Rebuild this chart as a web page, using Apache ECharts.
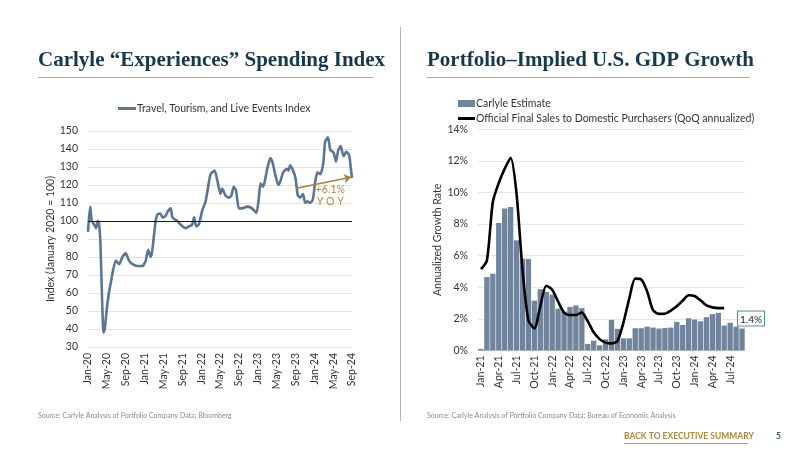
<!DOCTYPE html>
<html>
<head>
<meta charset="utf-8">
<script src="https://cdn.jsdelivr.net/npm/echarts@6.0.0/dist/echarts.min.js"></script>
<style>
  html, body { margin: 0; padding: 0; background: #fff; }
  #main { width: 800px; height: 450px; }
</style>
</head>
<body>
<div id="main"></div>
<script>
// left chart: index values, x = months since Jan-20
var idxMonth = [0, 0.45, 0.8, 1.3, 1.7, 2.05, 2.3, 2.6, 3.3, 3.55, 4.15, 4.85, 5.9, 6.6, 7.3, 8.0, 8.7, 9.45, 10.5, 11.55,
                12.25, 12.75, 13.3, 13.65, 14.4, 14.85, 15.4, 15.8, 16.5, 16.85, 17.55, 17.9, 18.95, 19.65, 20.7, 21.4, 22.1, 22.5, 22.95, 23.5,
                24.25, 24.95, 26.0, 26.85, 27.4, 28.1, 28.45, 29.2, 29.85, 30.4, 30.9, 31.4, 32.0, 32.7, 33.8, 34.5, 35.2, 35.75, 36.2, 36.6,
                37.1, 37.5, 38.1, 38.7, 39.2, 39.7, 40.4, 40.8, 41.4, 42.2, 42.5, 42.9, 43.5, 44.0, 44.5, 45.0, 45.6, 46.1, 46.6, 47.1,
                47.7, 48.2, 48.7, 49.3, 49.9, 50.3, 50.9, 51.4, 52.1, 52.6, 53.1, 53.6, 54.2, 54.8, 55.4, 55.8, 56];
var idxValue = [94, 108, 100, 98, 96, 100, 99, 90, 38, 40, 55, 66, 78, 76, 80, 82, 78, 76, 75, 75,
                78, 84, 80, 84, 101, 104, 104, 102, 103, 105, 107, 102, 100, 98, 96, 97, 98, 102, 97, 98,
                106, 111, 126, 128, 123, 115, 118, 114, 113, 114, 119, 117, 107, 107, 108, 107.5, 106, 104.5, 112, 121,
                119, 122, 130, 135, 132, 126, 120, 122, 127, 129, 128, 131, 128, 124, 114.4, 113, 115, 110, 111, 110,
                112, 122, 127, 126, 132, 144, 146.5, 139.5, 138, 133, 139.5, 141.6, 136, 138.5, 136.5, 128, 124];
var idxTicks = ['Jan-20', 'May-20', 'Sep-20', 'Jan-21', 'May-21', 'Sep-21', 'Jan-22', 'May-22', 'Sep-22',
                'Jan-23', 'May-23', 'Sep-23', 'Jan-24', 'May-24', 'Sep-24'];
var yoyFrom = [44.2, 118.2];
var yoyTo = [55.8, 124.3];
var yoyTextAt = [51.4, 114];

// right chart: monthly
var gdpMonths = ['Jan-21', 'Feb-21', 'Mar-21', 'Apr-21', 'May-21', 'Jun-21', 'Jul-21', 'Aug-21', 'Sep-21', 'Oct-21', 'Nov-21', 'Dec-21',
                 'Jan-22', 'Feb-22', 'Mar-22', 'Apr-22', 'May-22', 'Jun-22', 'Jul-22', 'Aug-22', 'Sep-22', 'Oct-22', 'Nov-22', 'Dec-22',
                 'Jan-23', 'Feb-23', 'Mar-23', 'Apr-23', 'May-23', 'Jun-23', 'Jul-23', 'Aug-23', 'Sep-23', 'Oct-23', 'Nov-23', 'Dec-23',
                 'Jan-24', 'Feb-24', 'Mar-24', 'Apr-24', 'May-24', 'Jun-24', 'Jul-24', 'Aug-24', 'Sep-24'];
var carlyleEst = [0.1, 4.65, 4.86, 8.07, 8.98, 9.09, 6.97, 5.81, 5.79, 3.16, 3.88, 3.71,
                  3.54, 2.65, 2.46, 2.76, 2.85, 2.68, 0.41, 0.62, 0.33, 0.71, 1.94, 1.37,
                  0.77, 0.77, 1.41, 1.41, 1.51, 1.45, 1.39, 1.43, 1.45, 1.81, 1.62, 2.04,
                  1.96, 1.85, 2.11, 2.3, 2.38, 1.58, 1.75, 1.51, 1.39];
var officialSales = [5.15, 5.7, 9.4, 10.6, 11.5, 12.2, 9.9, 5.1, 1.9, 1.4, 2.8, 4.1,
                     3.85, 3.1, 2.4, 2.25, 2.25, 2.4, 1.85, 1.15, 0.72, 0.5, 0.45, 0.6,
                     1.75, 3.3, 4.55, 4.5, 3.75, 2.55, 2.32, 2.33, 2.53, 2.8, 3.15, 3.5,
                     3.45, 3.18, 2.85, 2.73, 2.68, 2.68];
var lastLabel = '1.4%';

var FONT = 'Lato';
var TITLE_COLOR = '#163a4c';
var LEG_TEXT = { fontSize: 10.5, color: '#333', fontFamily: FONT, padding: [0, 0, 0, -4] };
var chart = echarts.init(document.getElementById('main'));

var barData = carlyleEst.map(function (v, i) {
    if (i === carlyleEst.length - 1) {
        return {
            value: v,
            label: {
                show: true, position: 'top', offset: [9, 2], formatter: lastLabel,
                color: '#222', fontSize: 10, fontFamily: FONT,
                borderColor: '#4f8f97', borderWidth: 1, padding: [3, 2, 1, 2], backgroundColor: '#fff'
            }
        };
    }
    return v;
});

var option = {
    animation: false,
    textStyle: { fontFamily: FONT },
    graphic: [
        { type: 'text', left: 38, top: 50, style: { text: 'Carlyle \u201CExperiences\u201D Spending Index', font: 'bold 21px "Liberation Serif"', fill: TITLE_COLOR } },
        { type: 'text', left: 427, top: 50, style: { text: 'Portfolio\u2013Implied U.S. GDP Growth', font: 'bold 21px "Liberation Serif"', fill: TITLE_COLOR } },
        { type: 'line', shape: { x1: 38, y1: 77.5, x2: 373, y2: 77.5 }, style: { stroke: '#a8a8a8', lineWidth: 1 } },
        { type: 'line', shape: { x1: 427, y1: 77.5, x2: 750, y2: 77.5 }, style: { stroke: '#a8a8a8', lineWidth: 1 } },
        { type: 'line', shape: { x1: 400.5, y1: 27, x2: 400.5, y2: 421 }, style: { stroke: '#b5b5b5', lineWidth: 1 } },
        { type: 'text', left: 38, top: 412, style: { text: 'Source: Carlyle Analysis of Portfolio Company Data; Bloomberg', font: '7px Lato', fill: '#8a8a8a' } },
        { type: 'text', left: 427, top: 412, style: { text: 'Source: Carlyle Analysis of Portfolio Company Data; Bureau of Economic Analysis', font: '7px Lato', fill: '#8a8a8a' } },
        { type: 'text', left: 624, top: 432, style: { text: 'BACK TO EXECUTIVE SUMMARY', font: 'bold 8.5px Lato', fill: '#b0883a' } },
        { type: 'line', shape: { x1: 624, y1: 443.5, x2: 748, y2: 443.5 }, style: { stroke: '#b0883a', lineWidth: 0.8 } },
        { type: 'text', left: 776, top: 432, style: { text: '5', font: 'bold 8.5px Lato', fill: '#2e5a66' } }
    ],
    legend: [
        {
            data: [{ name: 'Travel, Tourism, and Live Events Index', icon: 'rect' }],
            left: 113, top: 98, itemWidth: 18, itemHeight: 3,
            textStyle: LEG_TEXT
        },
        {
            data: [{ name: 'Carlyle Estimate', icon: 'rect' }],
            left: 453, top: 93, itemWidth: 17, itemHeight: 7,
            textStyle: LEG_TEXT
        },
        {
            data: [{ name: 'Official Final Sales to Domestic Purchasers (QoQ annualized)', icon: 'rect' }],
            left: 453, top: 108, itemWidth: 17, itemHeight: 3,
            textStyle: LEG_TEXT
        }
    ],
    grid: [
        { left: 88, top: 131, width: 264, height: 216 },
        { left: 478, top: 129.3, width: 267, height: 221.2 }
    ],
    xAxis: [
        {
            gridIndex: 0, type: 'value', min: 0, max: 56, interval: 4,
            axisLine: { show: false }, axisTick: { show: false }, splitLine: { show: false },
            axisLabel: {
                rotate: 90, margin: 6, fontSize: 10.5, color: '#333',
                formatter: function (v) { return idxTicks[Math.round(v / 4)] || ''; }
            }
        },
        {
            gridIndex: 1, type: 'category', data: gdpMonths,
            axisLine: { show: true, lineStyle: { color: '#d9d9d9' } }, axisTick: { show: false },
            axisLabel: { rotate: 90, interval: 2, margin: 5, fontSize: 10.5, color: '#333' }
        }
    ],
    yAxis: [
        {
            gridIndex: 0, type: 'value', min: 30, max: 150, interval: 10,
            name: 'Index (January 2020 = 100)', nameLocation: 'middle', nameGap: 24,
            nameTextStyle: { fontSize: 10.5, color: '#333' },
            axisLine: { show: false }, axisTick: { show: false },
            axisLabel: { margin: 10, fontSize: 10.5, color: '#333' },
            splitLine: { lineStyle: { color: '#e3e3e3' } }
        },
        {
            gridIndex: 1, type: 'value', min: 0, max: 14, interval: 2,
            name: 'Annualized Growth Rate', nameLocation: 'middle', nameGap: 25,
            nameTextStyle: { fontSize: 10.5, color: '#333' },
            axisLine: { show: false }, axisTick: { show: false },
            axisLabel: { margin: 10, fontSize: 10.5, color: '#333', formatter: '{value}%' },
            splitLine: { lineStyle: { color: '#e6e6e6' } }
        }
    ],
    series: [
        {
            name: 'Travel, Tourism, and Live Events Index',
            type: 'line', xAxisIndex: 0, yAxisIndex: 0,
            data: idxMonth.map(function (m, i) { return [m, idxValue[i]]; }),
            symbol: 'none', smooth: 0.2,
            lineStyle: { color: '#5b7592', width: 2.6 },
            itemStyle: { color: '#5b7592' },
            markLine: {
                silent: true, symbol: ['none', 'none'], label: { show: false },
                data: [
                    { yAxis: 100, lineStyle: { color: '#1a1a1a', width: 1.2, type: 'solid' } },
                    [
                        { coord: yoyFrom, symbol: 'none', lineStyle: { color: '#a88035', width: 1.3, type: 'solid' } },
                        { coord: yoyTo, symbol: 'arrow', symbolSize: 7 }
                    ]
                ]
            },
            markPoint: {
                silent: true, symbol: 'circle', symbolSize: 1,
                itemStyle: { color: 'rgba(0,0,0,0)' },
                data: [{
                    coord: yoyTextAt,
                    label: {
                        show: true, position: 'inside', align: 'center', verticalAlign: 'middle',
                        formatter: '+6.1%\nY O Y',
                        color: '#b08a3c', fontSize: 10.5, lineHeight: 12, fontFamily: FONT
                    }
                }]
            },
            z: 3
        },
        {
            name: 'Carlyle Estimate',
            type: 'bar', xAxisIndex: 1, yAxisIndex: 1,
            data: barData, barCategoryGap: '10%',
            itemStyle: { color: '#70859c' }
        },
        {
            name: 'Official Final Sales to Domestic Purchasers (QoQ annualized)',
            type: 'line', xAxisIndex: 1, yAxisIndex: 1,
            data: officialSales, symbol: 'none', smooth: 0.25,
            lineStyle: { color: '#000', width: 2.6 },
            itemStyle: { color: '#000' },
            z: 3
        }
    ]
};
chart.setOption(option);
</script>
</body>
</html>
